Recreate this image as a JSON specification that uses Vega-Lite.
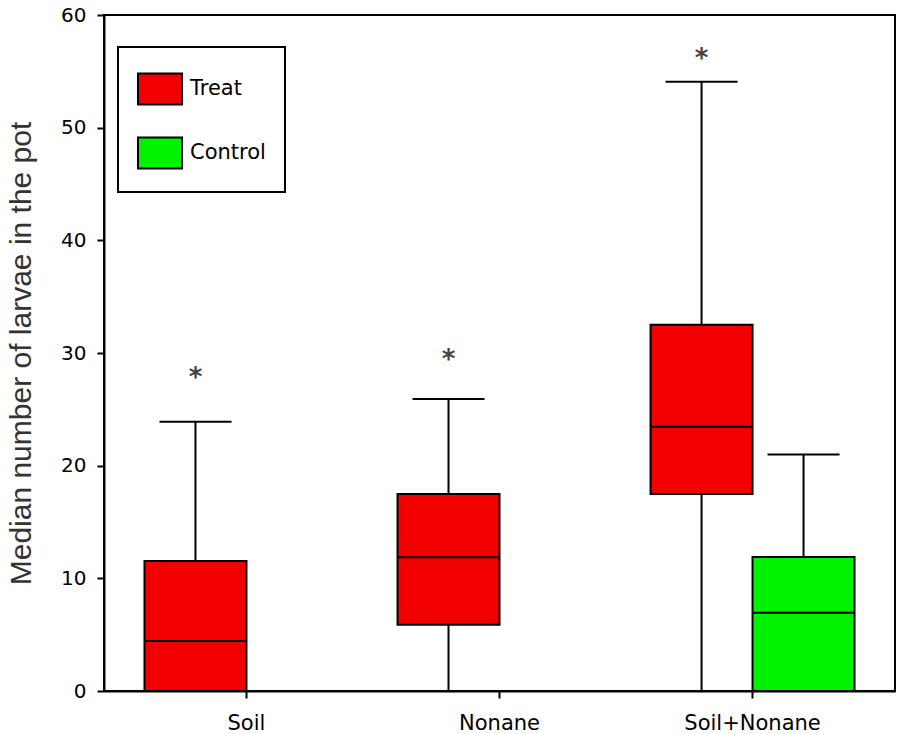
{
  "$schema": "https://vega.github.io/schema/vega-lite/v6.json",
  "autosize": "none",
  "padding": {"left": 104, "top": 15, "right": 2, "bottom": 43},
  "width": 791,
  "height": 676,
  "background": "white",
  "config": {
    "view": {"stroke": "black", "strokeWidth": 2},
    "axis": {"grid": false, "domainColor": "black", "domainWidth": 2, "tickColor": "black", "tickWidth": 2, "tickSize": 7, "labelColor": "black"},
    "legend": {"strokeWidth": 2}
  },
  "data": {
    "values": [
      {"condition": "Soil", "group": "Treat", "lower": 0, "q1": 0, "median": 4.44, "q3": 11.54, "upper": 23.9, "star": 28.5},
      {"condition": "Nonane", "group": "Treat", "lower": 0, "q1": 5.89, "median": 11.87, "q3": 17.48, "upper": 25.92, "star": 30.1},
      {"condition": "Soil+Nonane", "group": "Treat", "lower": 0, "q1": 17.48, "median": 23.45, "q3": 32.5, "upper": 54.08, "star": 56.8},
      {"condition": "Soil+Nonane", "group": "Control", "lower": 0, "q1": 0, "median": 6.95, "q3": 11.89, "upper": 21.0, "star": null}
    ]
  },
  "encoding": {
    "x": {
      "field": "condition", "type": "nominal",
      "sort": ["Soil", "Nonane", "Soil+Nonane"],
      "scale": {"domain": ["Soil", "Nonane", "Soil+Nonane"], "paddingInner": 0.194, "paddingOuter": 0.16, "align": 0.5},
      "axis": {"title": null, "labelAngle": 0, "labelFont": "DejaVu Sans", "labelFontSize": 21, "labelPadding": 14, "labelColor": "black"}
    },
    "xOffset": {
      "field": "group", "type": "nominal",
      "scale": {"domain": ["Treat", "Control"], "paddingInner": 0, "paddingOuter": 0}
    }
  },
  "layer": [
    {
      "mark": {"type": "rule", "color": "black", "strokeWidth": 2},
      "encoding": {
        "y": {"field": "lower", "type": "quantitative", "scale": {"domain": [0, 60], "nice": false, "zero": true},
          "axis": {"values": [0, 10, 20, 30, 40, 50, 60], "title": "Median number of larvae in the pot",
            "titleFont": "Liberation Sans", "titleFontSize": 30, "titleFontWeight": "normal", "titleColor": "#333333", "titlePadding": 24,
            "labelFont": "DejaVu Sans", "labelFontSize": 20, "labelPadding": 11}},
        "y2": {"field": "upper"}
      }
    },
    {
      "mark": {"type": "bar", "stroke": "black", "strokeWidth": 2},
      "encoding": {
        "y": {"field": "q1", "type": "quantitative"},
        "y2": {"field": "q3"},
        "color": {
          "field": "group", "type": "nominal",
          "scale": {"domain": ["Treat", "Control"], "range": ["#F20000", "#00F200"]},
          "legend": {
            "title": null, "orient": "none", "legendX": 14, "legendY": 32,
            "strokeColor": "black", "padding": 19, "fillColor": "white",
            "symbolType": "M-1,-0.7H1V0.7H-1Z", "symbolSize": 1936, "symbolStrokeColor": "black", "symbolStrokeWidth": 2, "symbolOpacity": 1,
            "labelFont": "DejaVu Sans", "labelFontSize": 21, "labelColor": "black", "labelOffset": 7, "rowPadding": 21
          }
        }
      }
    },
    {
      "mark": {"type": "tick", "color": "black", "thickness": 2, "size": 102, "orient": "horizontal", "opacity": 1},
      "encoding": {"y": {"field": "median", "type": "quantitative"}}
    },
    {
      "mark": {"type": "tick", "color": "black", "thickness": 2, "size": 72, "orient": "horizontal", "opacity": 1},
      "encoding": {"y": {"field": "upper", "type": "quantitative"}}
    },
    {
      "transform": [{"filter": "datum.star != null"}],
      "mark": {"type": "text", "text": "*", "font": "DejaVu Sans", "fontSize": 26, "fontWeight": "bold", "color": "#444444", "baseline": "middle", "dy": 8},
      "encoding": {"y": {"field": "star", "type": "quantitative"}}
    }
  ]
}
